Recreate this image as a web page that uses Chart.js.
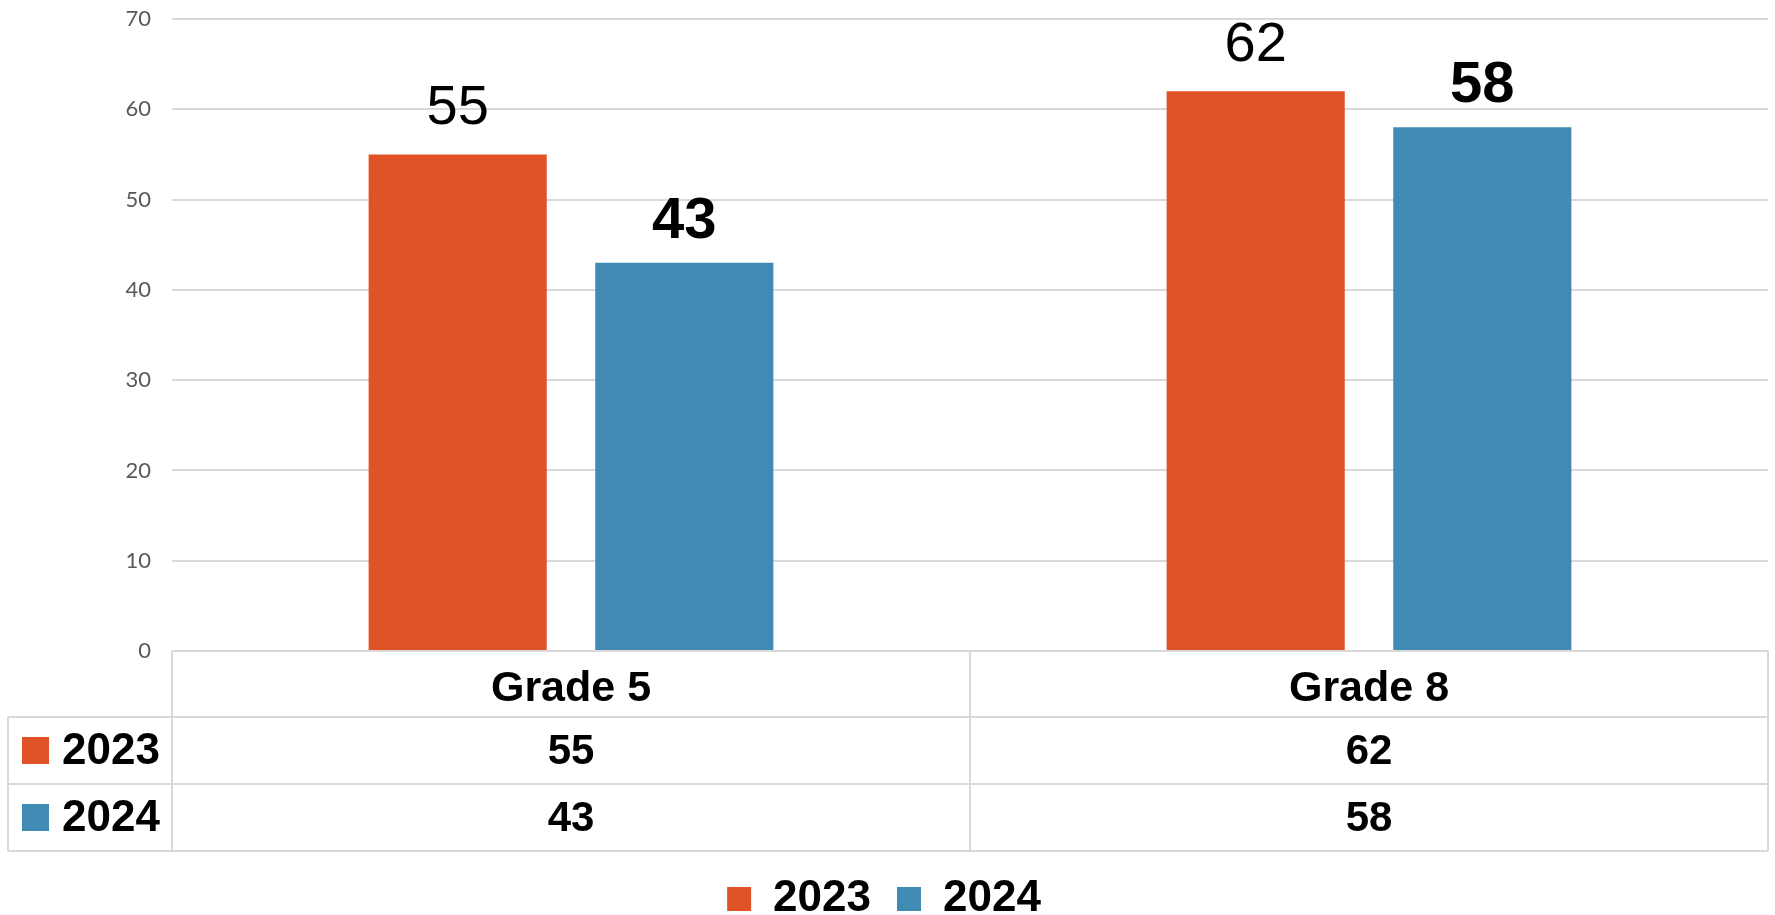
<!DOCTYPE html>
<html><head><meta charset="utf-8">
<script src="https://cdn.jsdelivr.net/npm/chart.js@4.4.0/dist/chart.umd.min.js"></script>
<style>html,body{margin:0;padding:0;background:#fff;} #wrap{width:1775px;height:915px;position:relative;}</style>
</head><body><div id="wrap"><canvas id="c"></canvas></div>
<script>
const categories = ['Grade 5', 'Grade 8'];
const seriesNames = ['2023', '2024'];
const values2023 = [55, 62];
const values2024 = [43, 58];
const yMin = 0, yMax = 70, yStep = 10;
const colors = ['#E05327', '#418AB3'];

const dataLabelPlugin = {
  id: 'dataLabels',
  afterDatasetsDraw(chart) {
    const ctx = chart.ctx;
    ctx.save();
    chart.data.datasets.forEach((ds, di) => {
      const meta = chart.getDatasetMeta(di);
      ctx.font = di === 0 ? '56px "Liberation Sans", Arial, sans-serif' : 'bold 58px "Liberation Sans", Arial, sans-serif';
      ctx.fillStyle = '#000';
      ctx.textAlign = 'center';
      ctx.textBaseline = 'alphabetic';
      meta.data.forEach((bar, i) => {
        ctx.fillText(String(ds.data[i]), bar.x, bar.y - (di === 0 ? 30 : 25));
      });
    });
    ctx.restore();
  }
};

const tablePlugin = {
  id: 'dataTable',
  afterDraw(chart) {
    const {ctx, chartArea} = chart;
    const x = chart.scales.x;
    const top = chartArea.bottom;
    const hdrH = 66, rowH = 67, left = 8;
    const rows = [top, top + hdrH, top + hdrH + rowH, top + hdrH + 2 * rowH];
    const line = (x1, y1, x2, y2) => { ctx.beginPath(); ctx.moveTo(x1, y1); ctx.lineTo(x2, y2); ctx.stroke(); };
    ctx.save();
    ctx.strokeStyle = '#d9d9d9';
    ctx.lineWidth = 2;
    line(chartArea.left, top, chartArea.right, top);
    for (let r = 1; r < rows.length; r++) line(left, rows[r], chartArea.right, rows[r]);
    line(left, rows[1], left, rows[3]);
    line(chartArea.left, top, chartArea.left, rows[3]);
    for (let i = 0; i < categories.length - 1; i++) {
      const mid = (x.getPixelForValue(i) + x.getPixelForValue(i + 1)) / 2;
      line(mid, top, mid, rows[3]);
    }
    line(chartArea.right, top, chartArea.right, rows[3]);
    chart.data.datasets.forEach((ds, r) => {
      const yMid = rows[r + 1] + rowH / 2;
      ctx.fillStyle = ds.backgroundColor;
      ctx.fillRect(left + 14, yMid - 13.5, 27, 27);
      ctx.fillStyle = '#000';
      ctx.textBaseline = 'alphabetic';
      ctx.textAlign = 'left';
      ctx.font = 'bold 44px "Liberation Sans", Arial, sans-serif';
      ctx.fillText(ds.label, left + 54, yMid + 13);
      ctx.textAlign = 'center';
      ctx.font = 'bold 42px "Liberation Sans", Arial, sans-serif';
      ds.data.forEach((v, i) => ctx.fillText(String(v), x.getPixelForValue(i), yMid + 13));
    });
    ctx.restore();
  }
};

new Chart(document.getElementById('c'), {
  type: 'bar',
  data: {
    labels: categories,
    datasets: [
      { label: seriesNames[0], data: values2023, backgroundColor: colors[0], borderWidth: 0 },
      { label: seriesNames[1], data: values2024, backgroundColor: colors[1], borderWidth: 0 }
    ]
  },
  options: {
    responsive: true,
    maintainAspectRatio: false,
    animation: false,
    devicePixelRatio: 1,
    categoryPercentage: 0.568,
    barPercentage: 0.786,
    layout: { padding: { top: 19, right: 7, left: 0, bottom: -16 } },
    plugins: {
      tooltip: { enabled: false },
      legend: {
        position: 'bottom',
        labels: {
          boxWidth: 24, boxHeight: 24, padding: 26, color: '#000',
          font: { family: '"Liberation Sans", Arial, sans-serif', size: 44, weight: 'bold' }
        }
      }
    },
    scales: {
      x: {
        grid: { display: false, drawTicks: false },
        border: { display: false },
        ticks: { color: '#000', padding: 12, font: { family: '"Liberation Sans", Arial, sans-serif', size: 43, weight: 'bold' } },
        afterFit(scale) { scale.height = 200; }
      },
      y: {
        min: yMin, max: yMax,
        grid: { color: '#d9d9d9', lineWidth: 2, drawTicks: true, tickLength: 21, tickColor: 'rgba(0,0,0,0)' },
        border: { display: false },
        ticks: { stepSize: yStep, padding: 0, color: '#595959', font: { family: 'Lato, "Noto Sans", sans-serif', size: 22 } },
        afterFit(scale) { scale.width = 172; }
      }
    }
  },
  plugins: [dataLabelPlugin, tablePlugin]
});
</script>
</body></html>
